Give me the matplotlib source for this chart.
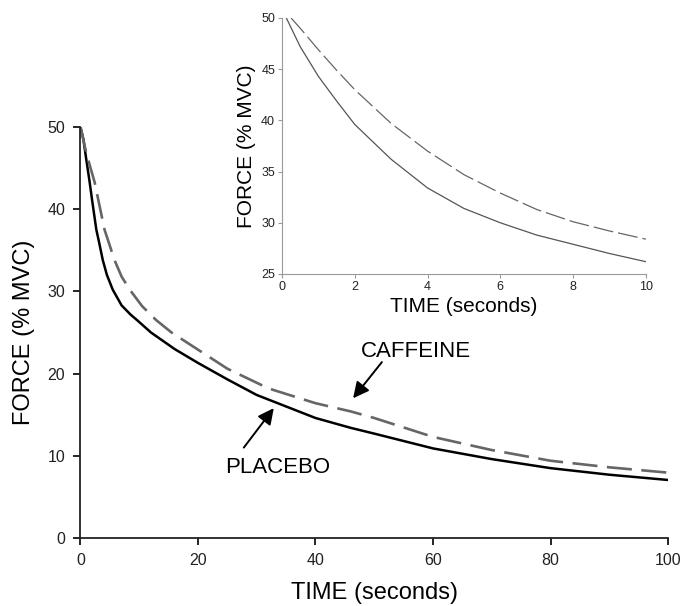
import matplotlib.pyplot as plt

plt.rcParams['font.family'] = ['Liberation Sans', 'DejaVu Sans']

# main panel (0-100 s)
t_placebo = [0, 0.5, 1, 1.56, 2, 2.7, 3.1, 3.8, 4.5, 5.5, 7, 8.5, 9.8, 12, 14, 16, 20, 25, 30,
             35, 40, 46, 50, 60, 70, 80, 90, 100]
f_placebo = [50, 48.5, 46.0, 43.3, 41.0, 37.5, 36.2, 33.8, 32.0, 30.2, 28.3, 27.2, 26.4, 25.0,
             24.0, 23.0, 21.3, 19.3, 17.4, 16.0, 14.6, 13.4, 12.7, 10.9, 9.6, 8.5, 7.7, 7.06]
t_caffeine = [0, 1, 2.4, 4.1, 4.7, 5.8, 7, 8.4, 10.5, 12.9, 15.5, 18.3, 25, 32, 40, 46, 50, 60,
              70, 80, 90, 100]
f_caffeine = [50, 46.8, 43.3, 37.5, 36.2, 33.8, 31.8, 30.2, 28.2, 26.5, 25.0, 23.7, 20.6, 18.2,
              16.4, 15.4, 14.6, 12.3, 10.7, 9.4, 8.6, 7.95]

# inset (0-10 s)
t_in_placebo = [0.12, 0.5, 1, 1.5, 2, 3, 4, 5, 6, 7, 8, 9, 10]
f_in_placebo = [50, 47.2, 44.3, 41.9, 39.6, 36.2, 33.4, 31.4, 30.0, 28.8, 27.9, 27.0, 26.2]
t_in_caffeine = [0.25, 0.5, 1, 1.5, 2, 3, 4, 5, 6, 7, 8, 9, 10]
f_in_caffeine = [50, 49.0, 46.9, 44.9, 43.0, 39.7, 37.0, 34.7, 32.9, 31.3, 30.1, 29.2, 28.4]

main_xticks = [0, 20, 40, 60, 80, 100]
main_yticks = [0, 10, 20, 30, 40, 50]
inset_xticks = [0, 2, 4, 6, 8, 10]
inset_yticks = [25, 30, 35, 40, 45, 50]

fig = plt.figure(figsize=(6.82, 6.06), dpi=100)

ax = fig.add_axes([0.118, 0.1122, 0.8615, 0.6782])
ax.plot(t_placebo, f_placebo, color='black', lw=1.8)
ax.plot(t_caffeine, f_caffeine, color='#666666', lw=1.9, dashes=(9.5, 3.6))
ax.set_xlim(0, 100)
ax.set_ylim(0, 50)
ax.set_xticks(main_xticks)
ax.set_yticks(main_yticks)
ax.spines['top'].set_visible(False)
ax.spines['right'].set_visible(False)
for s in ['left', 'bottom']:
    ax.spines[s].set_linewidth(1.3)
    ax.spines[s].set_color('#222222')
ax.tick_params(labelsize=11.5, length=5, width=1.2, pad=6, labelcolor='#222222')
ax.set_xlabel('TIME (seconds)', fontsize=17, labelpad=10)
ax.set_ylabel('FORCE (% MVC)', fontsize=17, labelpad=9)

arrow = dict(arrowstyle='-|>', color='black', lw=1.4, mutation_scale=24, shrinkA=0, shrinkB=0)
ax.text(33.6, 8.6, 'PLACEBO', fontsize=16, ha='center', va='center')
ax.annotate('', xy=(32.9, 15.8), xytext=(27.8, 11.0), arrowprops=arrow)
ax.text(57.1, 22.7, 'CAFFEINE', fontsize=16, ha='center', va='center')
ax.annotate('', xy=(46.4, 17.0), xytext=(51.3, 21.4), arrowprops=arrow)

ins = fig.add_axes([0.4135, 0.5479, 0.5335, 0.4224])
ins.plot(t_in_placebo, f_in_placebo, color='#555555', lw=0.9)
ins.plot(t_in_caffeine, f_in_caffeine, color='#666666', lw=0.9, dashes=(16, 4))
ins.set_xlim(0, 10)
ins.set_ylim(25, 50)
ins.set_xticks(inset_xticks)
ins.set_yticks(inset_yticks)
ins.spines['top'].set_visible(False)
ins.spines['right'].set_visible(False)
for s in ['left', 'bottom']:
    ins.spines[s].set_linewidth(0.8)
    ins.spines[s].set_color('#999999')
ins.tick_params(labelsize=9, length=3, width=0.8, color='#999999', labelcolor='#222222', pad=2)
ins.set_xlabel('TIME (seconds)', fontsize=15, labelpad=3)
ins.set_ylabel('FORCE (% MVC)', fontsize=15, labelpad=4)

fig.savefig('out.png', dpi=100)
